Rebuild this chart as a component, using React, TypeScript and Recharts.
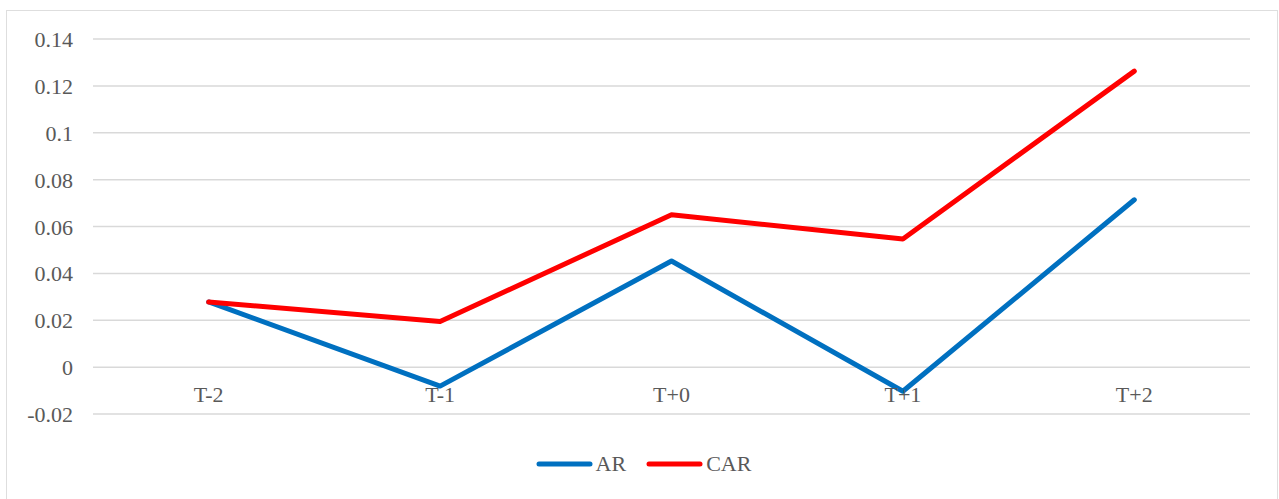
import { LineChart, Line, XAxis, YAxis, CartesianGrid, Legend } from "recharts";

// event window days
const days = ["T-2", "T-1", "T+0", "T+1", "T+2"];

// abnormal returns
const arValues = [0.0278, -0.0081, 0.0453, -0.0103, 0.0714];
// cumulative abnormal returns
const carValues = [0.0278, 0.0195, 0.065, 0.0547, 0.1263];

const yTicks = [-0.02, 0, 0.02, 0.04, 0.06, 0.08, 0.1, 0.12, 0.14];

const seriesList = [
  { key: "AR", color: "#0070C0" },
  { key: "CAR", color: "#FF0000" },
];

const FONT = "'Liberation Serif', 'Times New Roman', serif";
const TEXT_COLOR = "#595959";

const chartData = days.map((day, i) => ({
  day,
  AR: arValues[i],
  CAR: carValues[i],
}));

const DayTick = (props: any) => {
  const { x, y, payload } = props;
  return (
    <text
      x={x}
      y={y - 12}
      textAnchor="middle"
      fill={TEXT_COLOR}
      style={{ fontFamily: FONT, fontSize: 22 }}
    >
      {payload.value}
    </text>
  );
};

const ValueTick = (props: any) => {
  const { x, y, payload } = props;
  return (
    <text
      x={x}
      y={y}
      dy={8}
      textAnchor="end"
      fill={TEXT_COLOR}
      style={{ fontFamily: FONT, fontSize: 22 }}
    >
      {String(payload.value)}
    </text>
  );
};

const LegendContent = () => (
  <div
    style={{
      display: "flex",
      justifyContent: "center",
      alignItems: "center",
      fontFamily: FONT,
      fontSize: 22,
      color: TEXT_COLOR,
      paddingLeft: 28,
    }}
  >
    {seriesList.map((s) => (
      <div key={s.key} style={{ display: "flex", alignItems: "center", marginRight: 20 }}>
        <svg width={57} height={8} style={{ marginRight: 3 }}>
          <line x1={3} y1={4} x2={54} y2={4} stroke={s.color} strokeWidth={5} strokeLinecap="round" />
        </svg>
        <span>{s.key}</span>
      </div>
    ))}
  </div>
);

export default function App() {
  return (
    <div
      style={{
        position: "fixed",
        left: 0,
        top: 0,
        width: 1279,
        height: 499,
        background: "#fff",
        overflow: "hidden",
        fontFamily: FONT,
      }}
    >
      <div
        style={{
          position: "absolute",
          left: 6,
          top: 10,
          width: 1272,
          height: 500,
          border: "1.5px solid #dedede",
          boxSizing: "border-box",
        }}
      />
      <div style={{ position: "absolute", left: 0, top: 0 }}>
        <LineChart
          width={1279}
          height={499}
          data={chartData}
          margin={{ top: 39, right: 29, bottom: 84, left: 13 }}
          style={{ fontFamily: FONT }}
        >
          <CartesianGrid vertical={false} stroke="#d9d9d9" strokeWidth={1.5} />
          <XAxis
            dataKey="day"
            scale="band"
            axisLine={false}
            tickLine={false}
            tickSize={0}
            tickMargin={0}
            height={1}
            tick={<DayTick />}
            interval={0}
          />
          <YAxis
            width={80}
            domain={[-0.02, 0.14]}
            ticks={yTicks}
            axisLine={false}
            tickLine={false}
            tickSize={0}
            tickMargin={20}
            tick={<ValueTick />}
            interval={0}
            allowDataOverflow
          />
          <Legend
            verticalAlign="middle"
            align="center"
            layout="horizontal"
            content={<LegendContent />}
            wrapperStyle={{ top: 451, left: 0, width: 1279 }}
          />
          {seriesList.map((s) => (
            <Line
              key={s.key}
              dataKey={s.key}
              stroke={s.color}
              strokeWidth={5}
              strokeLinecap="round"
              strokeLinejoin="round"
              dot={false}
              activeDot={false}
              isAnimationActive={false}
            />
          ))}
        </LineChart>
      </div>
    </div>
  );
}
